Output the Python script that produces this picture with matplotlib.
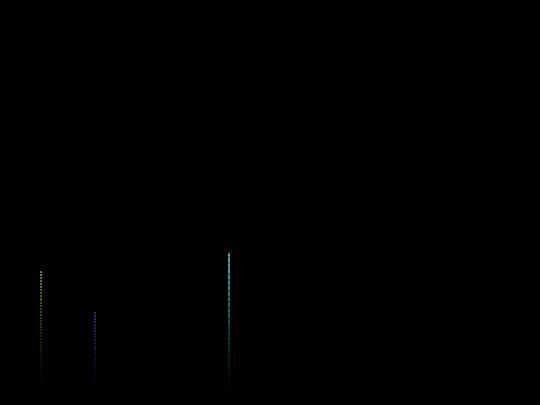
import matplotlib
matplotlib.use("Agg")
import matplotlib.pyplot as plt
import numpy as np

# three glowing columns on black
xs = [0.76, 1.76, 4.24]
tops = [3.28, 2.27, 3.73]
colors = ['#8fd64a', '#4a46d8', '#3fc8c8']
steps = [0.075, 0.075, 0.03]   # dot spacing along each column

fig = plt.figure(figsize=(5.4, 4.05), dpi=100, facecolor='black')
ax = fig.add_axes([0, 0, 1, 1])
ax.set_facecolor('black')

for x, top, c, st in zip(xs, tops, colors, steps):
    ys = np.arange(top, 0, -st)
    fade = (ys / top) ** 1.8 * 0.65
    rgba = np.zeros((len(ys), 4))
    rgba[:, :3] = matplotlib.colors.to_rgb(c)
    rgba[:, 3] = fade
    ax.scatter(np.full(len(ys), x), ys, s=2.2, marker='s', c=rgba, linewidths=0)

ax.set_xlim(0, 10)
ax.set_ylim(0, 10)
ax.axis('off')
fig.savefig('out.png', dpi=100, facecolor='black')
